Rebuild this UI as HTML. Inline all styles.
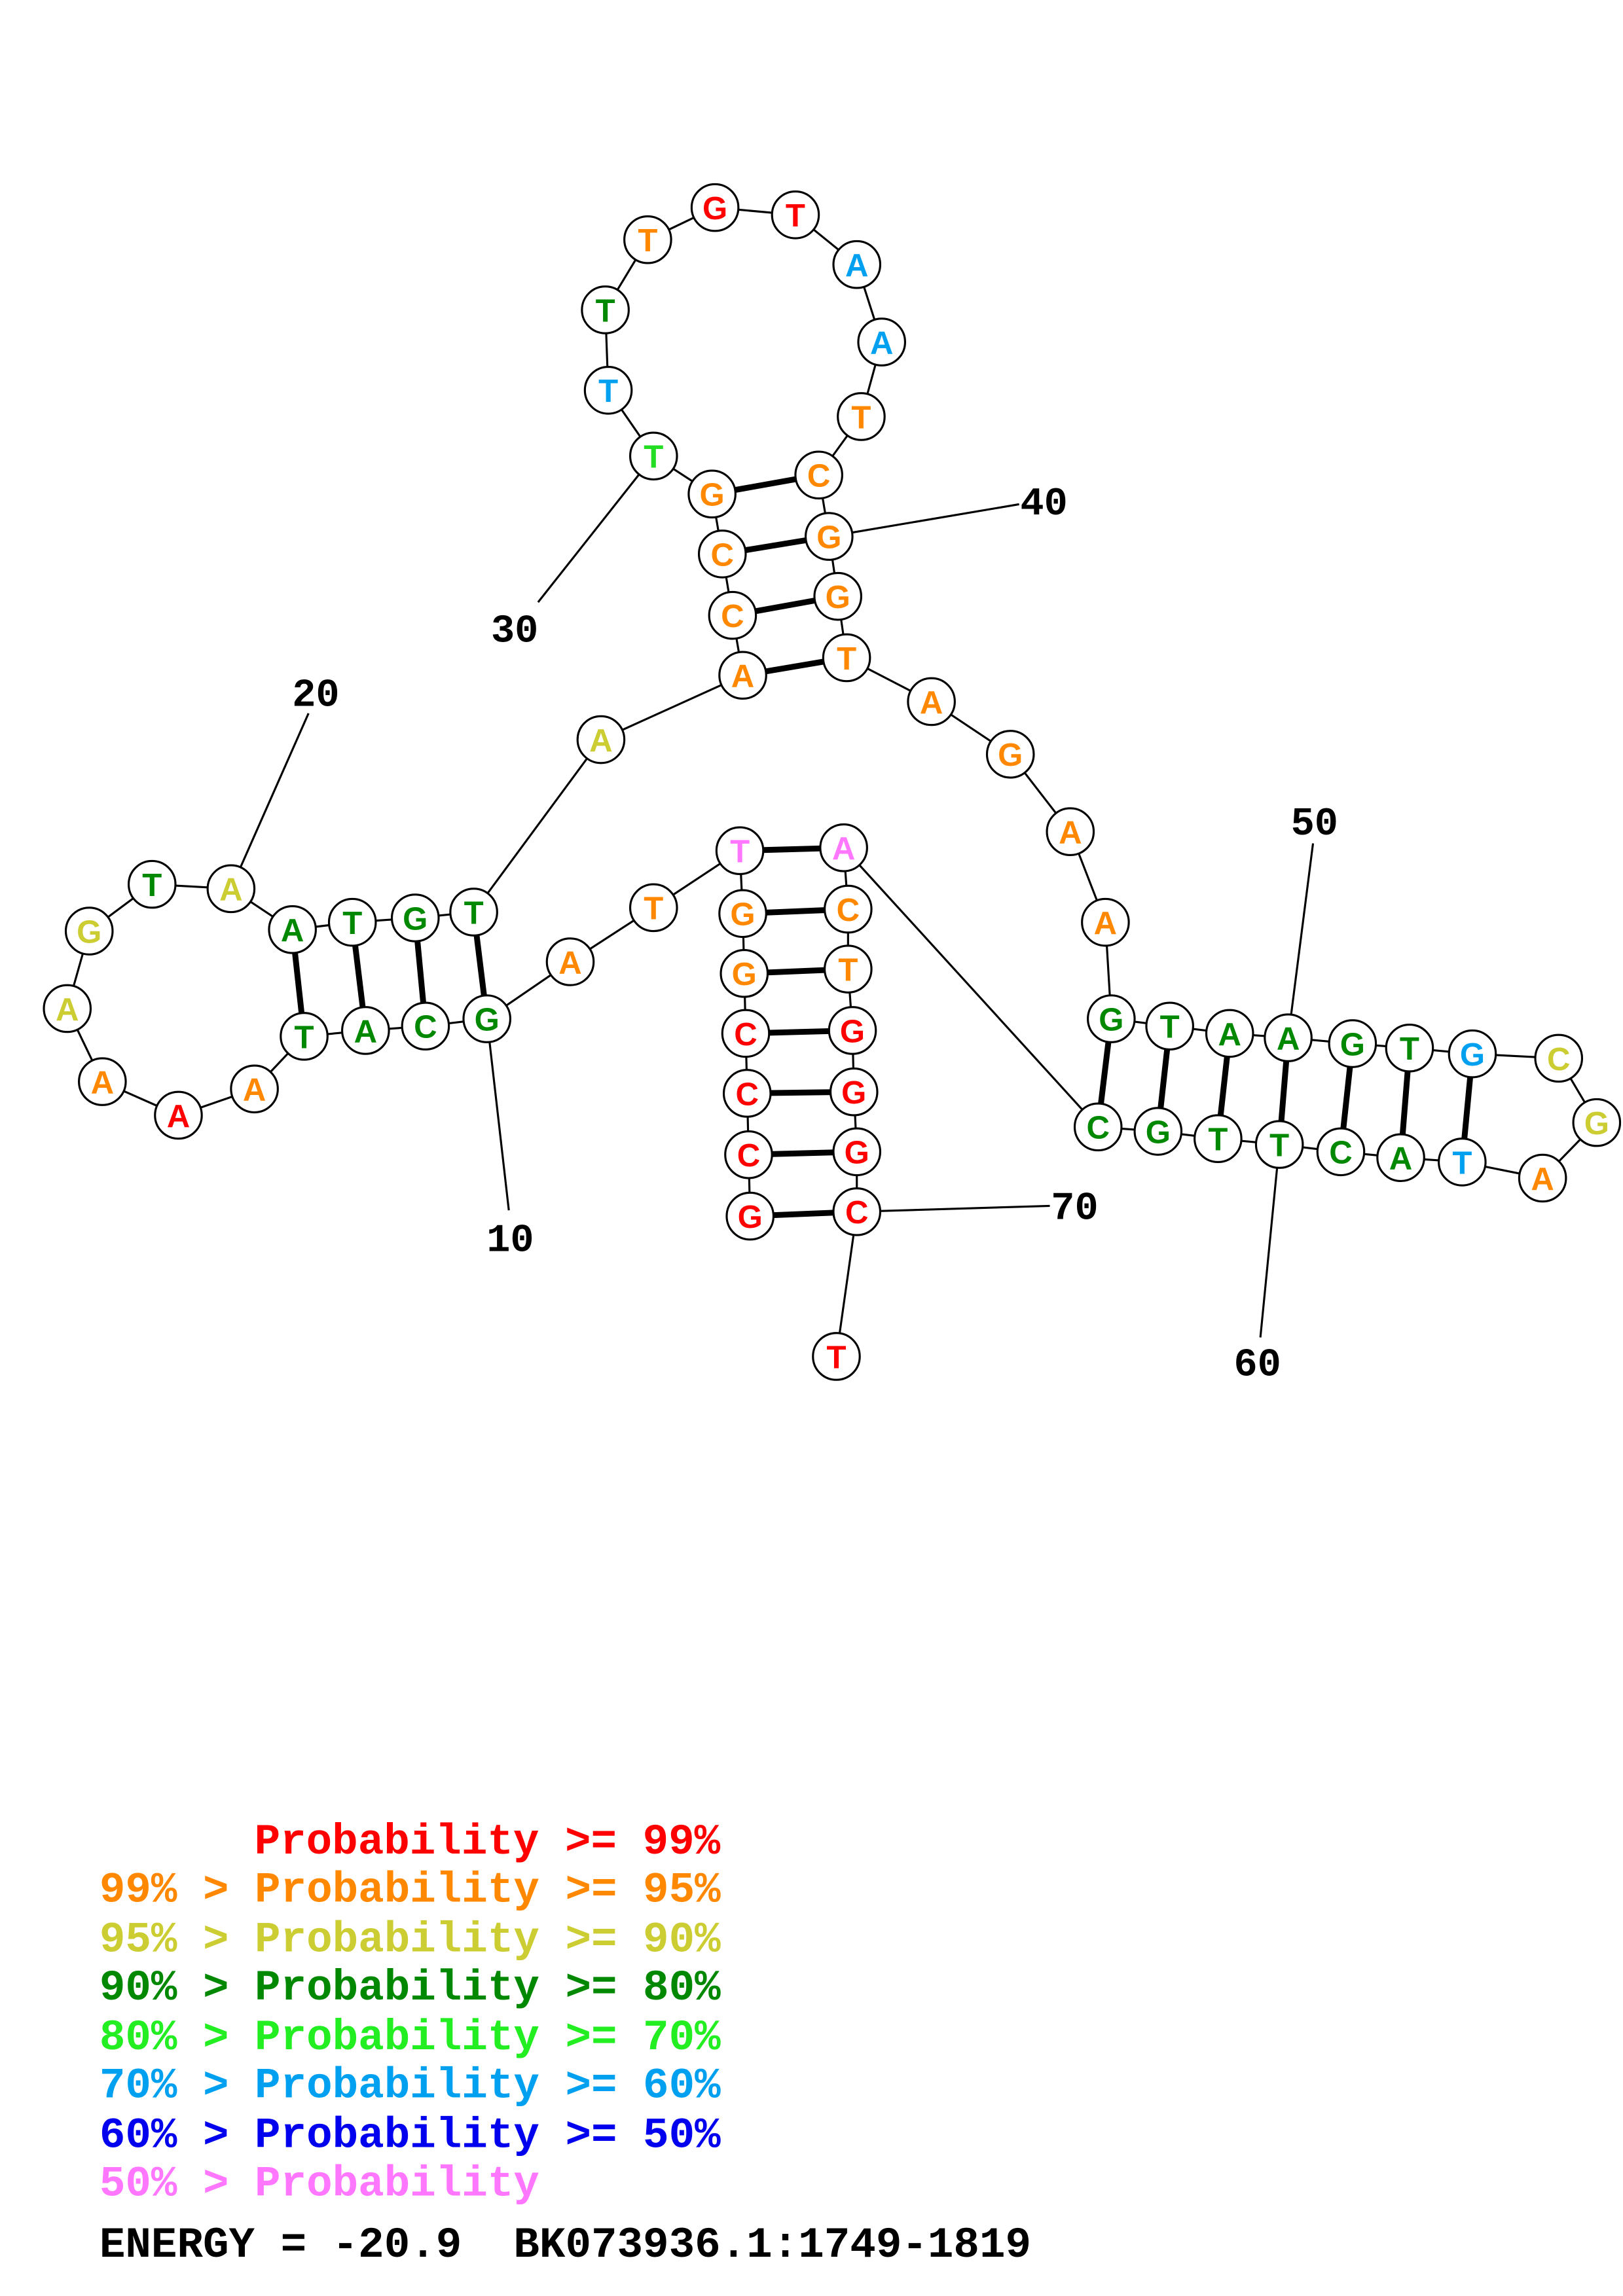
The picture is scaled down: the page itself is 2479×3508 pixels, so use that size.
<!DOCTYPE html>
<html><head><meta charset="utf-8"><style>
html,body{margin:0;padding:0;background:#fff}
svg{display:block}
.n text{font-family:"Liberation Sans",sans-serif;font-weight:bold;font-size:22px;text-anchor:middle}
.lb{font-family:"Liberation Mono",monospace;font-weight:bold;font-size:27px;fill:#000}
.lg text{font-family:"Liberation Mono",monospace;font-weight:bold;font-size:29.5px;white-space:pre}
</style></head><body>
<svg width="2479" height="3508" viewBox="0 0 1110 1570.8" preserveAspectRatio="none" xmlns="http://www.w3.org/2000/svg">
<rect width="1110" height="1571" fill="#fff"/>
<g stroke="#000" stroke-width="1.4" fill="none">
<polyline points="513,832 512,790 511,748 510,707 509,666 508,625 506,582 447,621 390,658 333,697 291,702 250,705 208,709 174,745 122,763 70,740 46,690 61,637 104,605 158,608 200,636 241,631 284,628 324,624 411,506 508,462 501,421 494,379 487,338 447,312 416,267 414,212 443,164 489,142 544,147 586,181 603,234 589,285 560,325 567,367 573,408 579,450 637,480 691,516 732,569 756,631 760,697 800,702 841,707 881,710 925,714 964,717 1007,721 1066,724 1092,768 1055,806 1000,795 958,792 917,788 875,783 833,779 792,774 751,771 577,580 580,622 580,663 583,705 584,747 586,788 586,829 572,928"/>
<line x1="333" y1="697" x2="348" y2="828"/>
<line x1="158" y1="608" x2="211" y2="488"/>
<line x1="447" y1="312" x2="368" y2="412"/>
<line x1="567" y1="367" x2="697" y2="345"/>
<line x1="881" y1="710" x2="898" y2="577"/>
<line x1="875" y1="783" x2="862" y2="915"/>
<line x1="586" y1="829" x2="718" y2="825"/>
</g>
<g stroke="#000" stroke-width="4">
<line x1="513" y1="832" x2="586" y2="829"/><line x1="512" y1="790" x2="586" y2="788"/><line x1="511" y1="748" x2="584" y2="747"/><line x1="510" y1="707" x2="583" y2="705"/><line x1="509" y1="666" x2="580" y2="663"/><line x1="508" y1="625" x2="580" y2="622"/><line x1="506" y1="582" x2="577" y2="580"/>
<line x1="333" y1="697" x2="324" y2="624"/><line x1="291" y1="702" x2="284" y2="628"/><line x1="250" y1="705" x2="241" y2="631"/><line x1="208" y1="709" x2="200" y2="636"/>
<line x1="508" y1="462" x2="579" y2="450"/><line x1="501" y1="421" x2="573" y2="408"/><line x1="494" y1="379" x2="567" y2="367"/><line x1="487" y1="338" x2="560" y2="325"/>
<line x1="760" y1="697" x2="751" y2="771"/><line x1="800" y1="702" x2="792" y2="774"/><line x1="841" y1="707" x2="833" y2="779"/><line x1="881" y1="710" x2="875" y2="783"/><line x1="925" y1="714" x2="917" y2="788"/><line x1="964" y1="717" x2="958" y2="792"/><line x1="1007" y1="721" x2="1000" y2="795"/>
</g>
<g class="n" stroke-width="1.4">
<g transform="translate(513,832)"><circle r="16" fill="#fff" stroke="#000"/><text dy="8" fill="#f00">G</text></g>
<g transform="translate(512,790)"><circle r="16" fill="#fff" stroke="#000"/><text dy="8" fill="#f00">C</text></g>
<g transform="translate(511,748)"><circle r="16" fill="#fff" stroke="#000"/><text dy="8" fill="#f00">C</text></g>
<g transform="translate(510,707)"><circle r="16" fill="#fff" stroke="#000"/><text dy="8" fill="#f00">C</text></g>
<g transform="translate(509,666)"><circle r="16" fill="#fff" stroke="#000"/><text dy="8" fill="#f80">G</text></g>
<g transform="translate(508,625)"><circle r="16" fill="#fff" stroke="#000"/><text dy="8" fill="#f80">G</text></g>
<g transform="translate(506,582)"><circle r="16" fill="#fff" stroke="#000"/><text dy="8" fill="#f7f">T</text></g>
<g transform="translate(447,621)"><circle r="16" fill="#fff" stroke="#000"/><text dy="8" fill="#f80">T</text></g>
<g transform="translate(390,658)"><circle r="16" fill="#fff" stroke="#000"/><text dy="8" fill="#f80">A</text></g>
<g transform="translate(333,697)"><circle r="16" fill="#fff" stroke="#000"/><text dy="8" fill="#080">G</text></g>
<g transform="translate(291,702)"><circle r="16" fill="#fff" stroke="#000"/><text dy="8" fill="#080">C</text></g>
<g transform="translate(250,705)"><circle r="16" fill="#fff" stroke="#000"/><text dy="8" fill="#080">A</text></g>
<g transform="translate(208,709)"><circle r="16" fill="#fff" stroke="#000"/><text dy="8" fill="#080">T</text></g>
<g transform="translate(174,745)"><circle r="16" fill="#fff" stroke="#000"/><text dy="8" fill="#f80">A</text></g>
<g transform="translate(122,763)"><circle r="16" fill="#fff" stroke="#000"/><text dy="8" fill="#f00">A</text></g>
<g transform="translate(70,740)"><circle r="16" fill="#fff" stroke="#000"/><text dy="8" fill="#f80">A</text></g>
<g transform="translate(46,690)"><circle r="16" fill="#fff" stroke="#000"/><text dy="8" fill="#cc3">A</text></g>
<g transform="translate(61,637)"><circle r="16" fill="#fff" stroke="#000"/><text dy="8" fill="#cc3">G</text></g>
<g transform="translate(104,605)"><circle r="16" fill="#fff" stroke="#000"/><text dy="8" fill="#080">T</text></g>
<g transform="translate(158,608)"><circle r="16" fill="#fff" stroke="#000"/><text dy="8" fill="#cc3">A</text></g>
<g transform="translate(200,636)"><circle r="16" fill="#fff" stroke="#000"/><text dy="8" fill="#080">A</text></g>
<g transform="translate(241,631)"><circle r="16" fill="#fff" stroke="#000"/><text dy="8" fill="#080">T</text></g>
<g transform="translate(284,628)"><circle r="16" fill="#fff" stroke="#000"/><text dy="8" fill="#080">G</text></g>
<g transform="translate(324,624)"><circle r="16" fill="#fff" stroke="#000"/><text dy="8" fill="#080">T</text></g>
<g transform="translate(411,506)"><circle r="16" fill="#fff" stroke="#000"/><text dy="8" fill="#cc3">A</text></g>
<g transform="translate(508,462)"><circle r="16" fill="#fff" stroke="#000"/><text dy="8" fill="#f80">A</text></g>
<g transform="translate(501,421)"><circle r="16" fill="#fff" stroke="#000"/><text dy="8" fill="#f80">C</text></g>
<g transform="translate(494,379)"><circle r="16" fill="#fff" stroke="#000"/><text dy="8" fill="#f80">C</text></g>
<g transform="translate(487,338)"><circle r="16" fill="#fff" stroke="#000"/><text dy="8" fill="#f80">G</text></g>
<g transform="translate(447,312)"><circle r="16" fill="#fff" stroke="#000"/><text dy="8" fill="#2d2">T</text></g>
<g transform="translate(416,267)"><circle r="16" fill="#fff" stroke="#000"/><text dy="8" fill="#00a0f0">T</text></g>
<g transform="translate(414,212)"><circle r="16" fill="#fff" stroke="#000"/><text dy="8" fill="#080">T</text></g>
<g transform="translate(443,164)"><circle r="16" fill="#fff" stroke="#000"/><text dy="8" fill="#f80">T</text></g>
<g transform="translate(489,142)"><circle r="16" fill="#fff" stroke="#000"/><text dy="8" fill="#f00">G</text></g>
<g transform="translate(544,147)"><circle r="16" fill="#fff" stroke="#000"/><text dy="8" fill="#f00">T</text></g>
<g transform="translate(586,181)"><circle r="16" fill="#fff" stroke="#000"/><text dy="8" fill="#00a0f0">A</text></g>
<g transform="translate(603,234)"><circle r="16" fill="#fff" stroke="#000"/><text dy="8" fill="#00a0f0">A</text></g>
<g transform="translate(589,285)"><circle r="16" fill="#fff" stroke="#000"/><text dy="8" fill="#f80">T</text></g>
<g transform="translate(560,325)"><circle r="16" fill="#fff" stroke="#000"/><text dy="8" fill="#f80">C</text></g>
<g transform="translate(567,367)"><circle r="16" fill="#fff" stroke="#000"/><text dy="8" fill="#f80">G</text></g>
<g transform="translate(573,408)"><circle r="16" fill="#fff" stroke="#000"/><text dy="8" fill="#f80">G</text></g>
<g transform="translate(579,450)"><circle r="16" fill="#fff" stroke="#000"/><text dy="8" fill="#f80">T</text></g>
<g transform="translate(637,480)"><circle r="16" fill="#fff" stroke="#000"/><text dy="8" fill="#f80">A</text></g>
<g transform="translate(691,516)"><circle r="16" fill="#fff" stroke="#000"/><text dy="8" fill="#f80">G</text></g>
<g transform="translate(732,569)"><circle r="16" fill="#fff" stroke="#000"/><text dy="8" fill="#f80">A</text></g>
<g transform="translate(756,631)"><circle r="16" fill="#fff" stroke="#000"/><text dy="8" fill="#f80">A</text></g>
<g transform="translate(760,697)"><circle r="16" fill="#fff" stroke="#000"/><text dy="8" fill="#080">G</text></g>
<g transform="translate(800,702)"><circle r="16" fill="#fff" stroke="#000"/><text dy="8" fill="#080">T</text></g>
<g transform="translate(841,707)"><circle r="16" fill="#fff" stroke="#000"/><text dy="8" fill="#080">A</text></g>
<g transform="translate(881,710)"><circle r="16" fill="#fff" stroke="#000"/><text dy="8" fill="#080">A</text></g>
<g transform="translate(925,714)"><circle r="16" fill="#fff" stroke="#000"/><text dy="8" fill="#080">G</text></g>
<g transform="translate(964,717)"><circle r="16" fill="#fff" stroke="#000"/><text dy="8" fill="#080">T</text></g>
<g transform="translate(1007,721)"><circle r="16" fill="#fff" stroke="#000"/><text dy="8" fill="#00a0f0">G</text></g>
<g transform="translate(1066,724)"><circle r="16" fill="#fff" stroke="#000"/><text dy="8" fill="#cc3">C</text></g>
<g transform="translate(1092,768)"><circle r="16" fill="#fff" stroke="#000"/><text dy="8" fill="#cc3">G</text></g>
<g transform="translate(1055,806)"><circle r="16" fill="#fff" stroke="#000"/><text dy="8" fill="#f80">A</text></g>
<g transform="translate(1000,795)"><circle r="16" fill="#fff" stroke="#000"/><text dy="8" fill="#00a0f0">T</text></g>
<g transform="translate(958,792)"><circle r="16" fill="#fff" stroke="#000"/><text dy="8" fill="#080">A</text></g>
<g transform="translate(917,788)"><circle r="16" fill="#fff" stroke="#000"/><text dy="8" fill="#080">C</text></g>
<g transform="translate(875,783)"><circle r="16" fill="#fff" stroke="#000"/><text dy="8" fill="#080">T</text></g>
<g transform="translate(833,779)"><circle r="16" fill="#fff" stroke="#000"/><text dy="8" fill="#080">T</text></g>
<g transform="translate(792,774)"><circle r="16" fill="#fff" stroke="#000"/><text dy="8" fill="#080">G</text></g>
<g transform="translate(751,771)"><circle r="16" fill="#fff" stroke="#000"/><text dy="8" fill="#080">C</text></g>
<g transform="translate(577,580)"><circle r="16" fill="#fff" stroke="#000"/><text dy="8" fill="#f7f">A</text></g>
<g transform="translate(580,622)"><circle r="16" fill="#fff" stroke="#000"/><text dy="8" fill="#f80">C</text></g>
<g transform="translate(580,663)"><circle r="16" fill="#fff" stroke="#000"/><text dy="8" fill="#f80">T</text></g>
<g transform="translate(583,705)"><circle r="16" fill="#fff" stroke="#000"/><text dy="8" fill="#f00">G</text></g>
<g transform="translate(584,747)"><circle r="16" fill="#fff" stroke="#000"/><text dy="8" fill="#f00">G</text></g>
<g transform="translate(586,788)"><circle r="16" fill="#fff" stroke="#000"/><text dy="8" fill="#f00">G</text></g>
<g transform="translate(586,829)"><circle r="16" fill="#fff" stroke="#000"/><text dy="8" fill="#f00">C</text></g>
<g transform="translate(572,928)"><circle r="16" fill="#fff" stroke="#000"/><text dy="8" fill="#f00">T</text></g>
</g>
<g class="lb" text-anchor="middle">
<text x="349" y="856">10</text>
<text x="216" y="483">20</text>
<text x="352" y="439">30</text>
<text x="714" y="352">40</text>
<text x="899" y="571">50</text>
<text x="860" y="941">60</text>
<text x="735" y="834">70</text>
</g>
<g class="lg">
<text x="174" y="1268" fill="#f00">Probability &gt;= 99%</text>
<text x="68" y="1301" fill="#f80">99% &gt; Probability &gt;= 95%</text>
<text x="68" y="1335" fill="#cc3">95% &gt; Probability &gt;= 90%</text>
<text x="68" y="1368" fill="#080">90% &gt; Probability &gt;= 80%</text>
<text x="68" y="1402" fill="#2e2">80% &gt; Probability &gt;= 70%</text>
<text x="68" y="1435" fill="#00a0f0">70% &gt; Probability &gt;= 60%</text>
<text x="68" y="1469" fill="#00e">60% &gt; Probability &gt;= 50%</text>
<text x="68" y="1502" fill="#f7f">50% &gt; Probability</text>
<text x="68" y="1544" fill="#000">ENERGY = -20.9  BK073936.1:1749-1819</text>
</g>
</svg>
</body></html>
